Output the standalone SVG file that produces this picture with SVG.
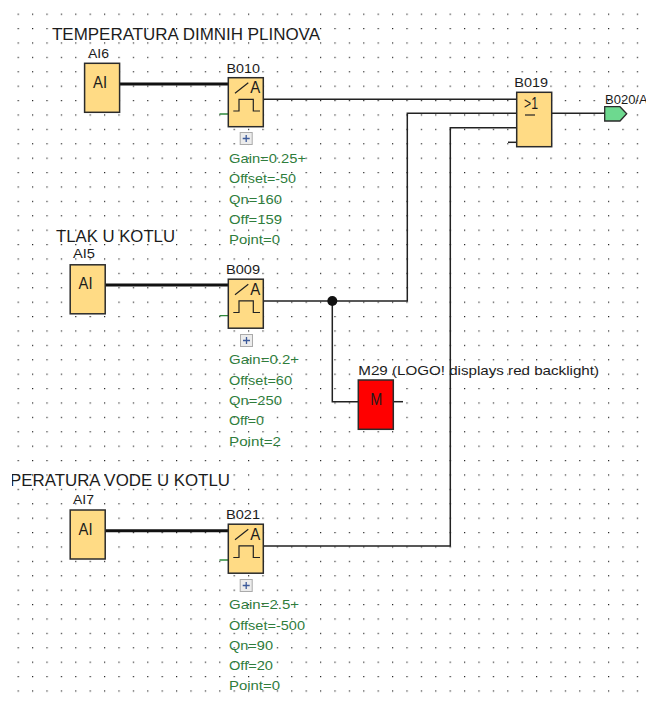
<svg xmlns="http://www.w3.org/2000/svg" width="646" height="702" viewBox="0 0 646 702">
<style>
text{font-family:"Liberation Sans",Arial,sans-serif;fill:#1c1c1c}
.lab{font-size:13px}
.big{font-size:16.5px}
.par{font-size:13.5px;fill:#2f7d3c}
.in{font-size:16.5px;text-anchor:middle}
.blk{fill:#ffdb85;stroke:#2b2b2b;stroke-width:1.5}
.w{fill:none;stroke:#222;stroke-width:1.5}
.t{fill:none;stroke:#111;stroke-width:3}
.g{fill:none;stroke:#2f8a3c;stroke-width:1.3}
.i{fill:none;stroke:#222;stroke-width:1.2}
</style>
<defs>
<pattern id="grid" x="17.6" y="13.6" width="14.4" height="14.4" patternUnits="userSpaceOnUse"><rect width="1.2" height="1.2" fill="#222"/></pattern>
<clipPath id="cut"><rect x="12" y="460" width="300" height="40"/></clipPath>
<g id="ana">
<rect class="blk" width="35" height="49"/>
<path class="i" d="M6.7 15.6L20 5M5 33.3H10.7V21.6H25V33.3H31.7"/>
<text class="in" x="27" y="15.5" textLength="10" lengthAdjust="spacingAndGlyphs">A</text>
</g>
<g id="plus"><rect x="0.5" y="0.5" width="12" height="12" fill="#ececec" stroke="#aaa"/><path d="M3 6.5H10M6.5 3V10" stroke="#3c5a9a" stroke-width="1.3" fill="none"/></g>
</defs>
<rect width="646" height="702" fill="#fff"/>
<rect x="16" y="12" width="630" height="686" fill="url(#grid)"/>
<g id="connectors">
<path class="t" d="M119.5 84H228.3"/>
<path class="t" d="M105 285H228.3"/>
<path class="t" d="M105 530.7H228.3"/>
<path class="w" d="M263.3 99.3H516.7"/>
<path class="w" d="M263.3 301H407.3V113.3H516.7"/>
<path class="w" d="M332.3 301V401.7H358.3"/>
<path class="w" d="M263.3 546H450.3V127.7H516.7"/>
<path class="w" d="M508 142.3H516.7"/>
<path class="w" d="M551.7 113.3H604.7"/>
<path class="w" d="M393 401.7H403"/>
<circle cx="332.3" cy="301" r="5" fill="#111"/>
<path class="g" d="M219.5 114H228.3M219.5 315.7H228.3M219.5 560H228.3"/>
</g>
<g id="title1"><text class="big" x="52" y="40" textLength="268" lengthAdjust="spacingAndGlyphs">TEMPERATURA DIMNIH PLINOVA</text></g>
<g id="title2"><text class="big" x="56" y="241.7" textLength="119" lengthAdjust="spacingAndGlyphs">TLAK U KOTLU</text></g>
<g id="title3"><text class="big" x="10" y="485.7" textLength="220" lengthAdjust="spacingAndGlyphs" clip-path="url(#cut)">PERATURA VODE U KOTLU</text></g>
<g id="AI6"><rect class="blk" x="84.6" y="63.3" width="35" height="49"/><text class="in" x="100" y="88" textLength="14" lengthAdjust="spacingAndGlyphs">AI</text><text class="lab" x="88" y="58" textLength="21" lengthAdjust="spacingAndGlyphs">AI6</text></g>
<g id="AI5"><rect class="blk" x="70.2" y="264.8" width="35" height="49"/><text class="in" x="85.5" y="289" textLength="14" lengthAdjust="spacingAndGlyphs">AI</text><text class="lab" x="73" y="258.3" textLength="22" lengthAdjust="spacingAndGlyphs">AI5</text></g>
<g id="AI7"><rect class="blk" x="70.2" y="510" width="35" height="49"/><text class="in" x="85.5" y="535" textLength="14" lengthAdjust="spacingAndGlyphs">AI</text><text class="lab" x="73" y="504" textLength="21" lengthAdjust="spacingAndGlyphs">AI7</text></g>
<g id="B010"><use href="#ana" x="228.3" y="77.7"/><use href="#plus" x="239.7" y="132"/><text class="lab" x="226.5" y="72.7" textLength="33.5" lengthAdjust="spacingAndGlyphs">B010</text>
<text class="par" x="229" y="163" textLength="77" lengthAdjust="spacingAndGlyphs">Gain=0.25+</text><text class="par" x="229" y="183" textLength="67" lengthAdjust="spacingAndGlyphs">Offset=-50</text><text class="par" x="229" y="203.5" textLength="53" lengthAdjust="spacingAndGlyphs">Qn=160</text><text class="par" x="229" y="223.5" textLength="53" lengthAdjust="spacingAndGlyphs">Off=159</text><text class="par" x="229" y="243.5" textLength="51" lengthAdjust="spacingAndGlyphs">Point=0</text></g>
<g id="B009"><use href="#ana" x="228.3" y="279.2"/><use href="#plus" x="240" y="334"/><text class="lab" x="226" y="273.5" textLength="34" lengthAdjust="spacingAndGlyphs">B009</text>
<text class="par" x="229" y="364" textLength="70" lengthAdjust="spacingAndGlyphs">Gain=0.2+</text><text class="par" x="229" y="385" textLength="63" lengthAdjust="spacingAndGlyphs">Offset=60</text><text class="par" x="229" y="405" textLength="53" lengthAdjust="spacingAndGlyphs">Qn=250</text><text class="par" x="229" y="425" textLength="35" lengthAdjust="spacingAndGlyphs">Off=0</text><text class="par" x="229" y="445.5" textLength="52" lengthAdjust="spacingAndGlyphs">Point=2</text></g>
<g id="B021"><use href="#ana" x="228.3" y="524.2"/><use href="#plus" x="239.7" y="579"/><text class="lab" x="226" y="519" textLength="34" lengthAdjust="spacingAndGlyphs">B021</text>
<text class="par" x="229" y="609" textLength="70" lengthAdjust="spacingAndGlyphs">Gain=2.5+</text><text class="par" x="229" y="629.5" textLength="76" lengthAdjust="spacingAndGlyphs">Offset=-500</text><text class="par" x="229" y="650" textLength="44" lengthAdjust="spacingAndGlyphs">Qn=90</text><text class="par" x="229" y="670" textLength="44" lengthAdjust="spacingAndGlyphs">Off=20</text><text class="par" x="229" y="690" textLength="51" lengthAdjust="spacingAndGlyphs">Point=0</text></g>
<g id="B019"><rect class="blk" x="516.7" y="92.3" width="35" height="54.4"/><text class="in" x="531" y="109" textLength="14" lengthAdjust="spacingAndGlyphs">&gt;1</text><path class="i" d="M525 115H535"/><text class="lab" x="514.3" y="86.7" textLength="33.7" lengthAdjust="spacingAndGlyphs">B019</text></g>
<g id="B020"><path d="M604.7 106.7H620L626.7 113.8L620 121H604.7Z" fill="#6dd98f" stroke="#2b2b2b" stroke-width="1.3"/><text class="lab" x="605" y="104">B020/A</text></g>
<g id="M29"><rect x="358.3" y="380" width="35" height="49.3" fill="#f00" stroke="#2b2b2b" stroke-width="1.5"/><text class="in" x="376.3" y="405" textLength="12" lengthAdjust="spacingAndGlyphs">M</text><text class="lab" x="358.3" y="375" textLength="240.7" lengthAdjust="spacingAndGlyphs">M29 (LOGO! displays red backlight)</text></g>
</svg>
